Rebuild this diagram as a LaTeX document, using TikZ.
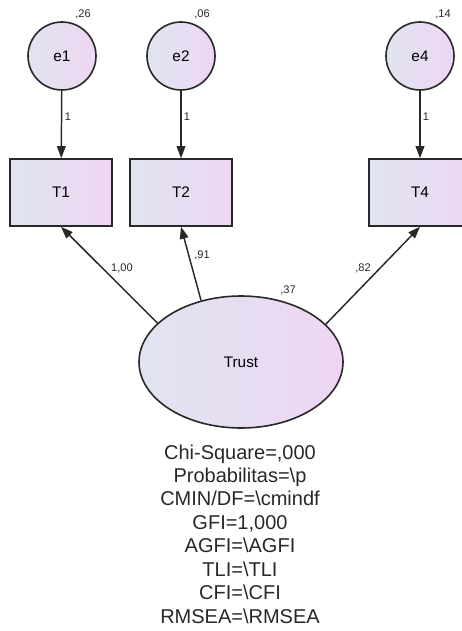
\documentclass[tikz,border=0pt]{standalone}
\usepackage{fontspec}
\setmainfont{Liberation Sans}
\usetikzlibrary{arrows.meta,shapes.geometric}

\definecolor{semline}{RGB}{40,40,40}
\definecolor{semleft}{RGB}{224,228,240}
\definecolor{semright}{RGB}{238,214,243}

\tikzset{
  errc/.style={circle,draw=semline,line width=1.2pt,minimum size=51pt,inner sep=0pt,
    left color=semleft,right color=semright,font=\fontsize{11.5}{13}\selectfont},
  obsbox/.style={rectangle,draw=semline,line width=1.2pt,minimum width=76.5pt,minimum height=50.25pt,
    inner sep=0pt,left color=semleft,right color=semright,font=\fontsize{11.5}{13}\selectfont},
  latent/.style={ellipse,draw=semline,line width=1.2pt,minimum width=153pt,minimum height=99pt,
    inner sep=0pt,left color=semleft,right color=semright,font=\fontsize{11.5}{13}\selectfont},
  est/.style={inner sep=0.75pt,text=semline,font=\fontsize{8.3}{9}\selectfont},
  reg/.style={draw=semline,line width=1.1pt,-{Triangle[length=9pt,width=6.5pt]}},
  fitlist/.style={align=center,inner sep=0pt,text=semline,font=\fontsize{15}{17.6}\selectfont}
}

\begin{document}
\begin{tikzpicture}[x=0.75pt,y=0.75pt,yscale=-1,xscale=1]
	\useasboundingbox (0,0) rectangle (461,631);

	% Error terms
	\node [errc] (e1) at (62,56) {e1};
	\node [errc] (e2) at (181,56) {e2};
	\node [errc] (e4) at (420,56) {e4};
	% Observed variables
	\node [obsbox] (T1) at (61,192.5) {T1};
	\node [obsbox] (T2) at (181,192.5) {T2};
	\node [obsbox] (T4) at (420,192.5) {T4};
	% Latent variable
	\node [latent] (trust) at (241,362) {Trust};

	% Variances
	\node [est] (v1) at (83,14) {,26};
	\node [est] (v2) at (202,14) {,06};
	\node [est] (v4) at (443,14) {,14};
	\node [est] (v5) at (288,290) {,37};

	% Connection
	\draw [reg] (e1) -- (T1);
	\draw [reg] (e2) -- (T2);
	\draw [reg] (e4) -- (T4);
	\node [est] (w1) at (68,117) {1};
	\node [est] (w2) at (187,117) {1};
	\node [est] (w4) at (426,117) {1};

	% Connection
	\draw [reg] (trust.155) -- (T1.south);
	\draw [reg] (trust.123) -- (T2.south);
	\draw [reg] (trust.24) -- (T4.south);
	\node [est] (l1) at (122,268) {1,00};
	\node [est] (l2) at (202,255) {,91};
	\node [est] (l4) at (363,268) {,82};

	% Text Node
	\node [fitlist] (fit) at (240,534) {Chi-Square=,000\\
		Probabilitas=\textbackslash p\\
		CMIN/DF=\textbackslash cmindf\\
		GFI=1,000\\
		AGFI=\textbackslash AGFI\\
		TLI=\textbackslash TLI\\
		CFI=\textbackslash CFI\\
		RMSEA=\textbackslash RMSEA};

\end{tikzpicture}
\end{document}
